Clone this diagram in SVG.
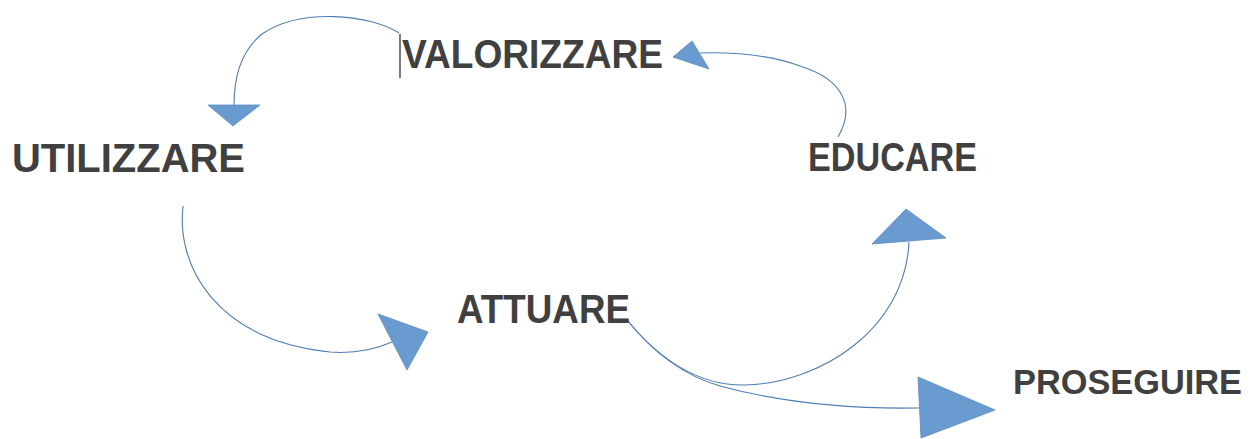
<svg xmlns="http://www.w3.org/2000/svg" width="1250" height="439" viewBox="0 0 1250 439">
<style>
.lbl{font-family:"Comic Sans MS","Liberation Sans",sans-serif;font-weight:bold;font-size:40px;fill:#404040}
.sm{font-size:35px}
.con{fill:none;stroke:#4f7db5;stroke-width:1.1}
.head{fill:#6a9bd0;stroke:#5a88c0;stroke-width:0.8}
</style>
<rect width="1250" height="439" fill="#fff"/>
<g id="connectors">
<path class="con" d="M399,33 C370,14 300,8 262,34 C242,50 234,75 234,105"/>
<polygon class="head" points="208,105 260,105 233,126"/>
<path class="con" d="M838,137 C855,108 845,80 800,66 C770,55 735,52 700,53"/>
<polygon class="head" points="673,57 692,41 709,69"/>
<path class="con" d="M183,206 C176,265 215,340 330,352 C356,354 376,349 392,342"/>
<polygon class="head" points="378,314 428,332 407,370"/>
<path class="con" d="M627,320 C660,360 700,386 745,385 C820,383 905,330 909,242"/>
<polygon class="head" points="906,209 872,244 946,238"/>
<path class="con" d="M627,320 C655,355 685,376 720,386 C790,405 860,409 919,408"/>
<polygon class="head" points="918,377 995,410 921,438"/>
</g>
<g id="valorizzare">
<line x1="400" y1="34" x2="400" y2="78" stroke="#333" stroke-width="1.3"/>
<text class="lbl" x="402" y="68" textLength="261" lengthAdjust="spacingAndGlyphs">VALORIZZARE</text>
</g>
<g id="utilizzare">
<text class="lbl" x="12" y="172" textLength="233" lengthAdjust="spacingAndGlyphs">UTILIZZARE</text>
</g>
<g id="educare">
<text class="lbl" x="808" y="171" textLength="169" lengthAdjust="spacingAndGlyphs">EDUCARE</text>
</g>
<g id="attuare">
<text class="lbl" x="457" y="323" textLength="173" lengthAdjust="spacingAndGlyphs">ATTUARE</text>
</g>
<g id="proseguire">
<text class="lbl sm" x="1013" y="394" textLength="229" lengthAdjust="spacingAndGlyphs">PROSEGUIRE</text>
</g>
</svg>
